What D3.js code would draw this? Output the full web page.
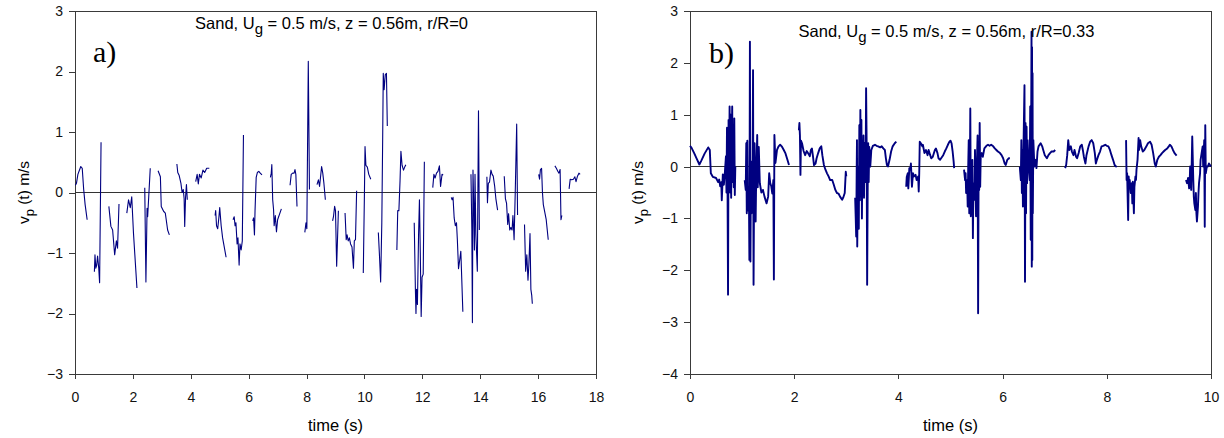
<!DOCTYPE html>
<html>
<head>
<meta charset="utf-8">
<script src="https://cdn.jsdelivr.net/npm/d3@7"></script>
<style>
  body { margin: 0; background: #fff; }
  svg { display: block; }
  text { fill: #000; }
</style>
</head>
<body>
<svg id="chart" width="1224" height="438"></svg>
<script>
// ---- axis ticks ----
const xTicksA = [0, 2, 4, 6, 8, 10, 12, 14, 16, 18];
const yTicksA = [-3, -2, -1, 0, 1, 2, 3];
const xTicksB = [0, 2, 4, 6, 8, 10];
const yTicksB = [-4, -3, -2, -1, 0, 1, 2, 3];

// ---- captions ----
const conditionsA = ["Sand, U", "g", " = 0.5 m/s, z = 0.56m, r/R=0"];
const conditionsB = ["Sand, U", "g", " = 0.5 m/s, z = 0.56m, r/R=0.33"];
const panelTags = ["a)", "b)"];
const xTitle = "time (s)";
const yTitle = ["v", "p", " (t) m/s"];

// ---- particle velocity records [time s, velocity m/s], one array per uninterrupted stretch ----
const tracesA = [
  [[0.01,0.12],[0.05,0.15],[0.1,0.3],[0.2,0.43],[0.25,0.4],[0.3,0.05],[0.35,-0.2],[0.42,-0.45]],
  [[0.67,-1.31],[0.69,-1.03],[0.72,-1.25],[0.75,-1.2],[0.78,-1.05],[0.82,-1.25],[0.85,-1.49],[0.9,0.83]],
  [[1.17,-0.23],[1.24,-0.56],[1.3,-0.62],[1.37,-1.03],[1.43,-0.8],[1.47,-0.92],[1.52,-0.19]],
  [[1.79,-0.34],[1.85,-0.12],[1.91,-0.25],[1.96,-0.07],[2.02,-0.67],[2.14,-1.58]],
  [[2.41,0.08],[2.45,-1.48],[2.49,-0.26],[2.51,-0.4],[2.6,0.4]],
  [[2.87,0.36],[2.95,0.26],[2.98,-0.23],[3.06,-0.31],[3.12,-0.34],[3.16,-0.48],[3.2,-0.62],[3.26,-0.7]],
  [[3.52,0.47],[3.55,0.33],[3.6,0.28],[3.66,0.15],[3.7,0.0],[3.74,0.05],[3.77,-0.1],[3.79,-0.56],[3.82,-0.08],[3.85,0.13],[3.88,-0.12]],
  [[4.17,0.18],[4.22,0.3],[4.26,0.14],[4.3,0.3],[4.36,0.24],[4.42,0.37],[4.48,0.33],[4.55,0.4],[4.64,0.4]],
  [[4.84,-0.38],[4.86,-0.3],[4.89,-0.55],[4.93,-0.6],[4.97,-0.42],[5.0,-0.25],[5.05,-0.55],[5.1,-0.75],[5.22,-1.07]],
  [[5.46,-0.45],[5.5,-0.4],[5.53,-0.55],[5.56,-0.5],[5.6,-0.85],[5.63,-0.75],[5.67,-1.2],[5.7,-0.85],[5.74,-0.95],[5.78,-0.8],[5.82,0.95]],
  [[6.14,-0.47],[6.17,-0.42],[6.2,-0.7],[6.22,-0.3],[6.26,0.25],[6.3,0.33],[6.35,0.35],[6.4,0.32],[6.46,0.29]],
  [[6.75,0.25],[6.78,0.32],[6.8,0.46],[6.83,-0.12],[6.86,-0.28],[6.88,-0.55],[6.92,-0.38],[6.96,-0.65],[7.0,-0.45],[7.13,-0.27]],
  [[7.43,0.12],[7.47,0.3],[7.52,0.32],[7.57,0.32],[7.6,0.38],[7.63,0.3],[7.67,-0.23]],
  [[7.94,-0.66],[7.98,-0.5],[8.01,-0.6],[8.06,2.17],[8.1,0.05]],
  [[8.36,0.13],[8.41,0.21],[8.45,0.1],[8.52,0.43],[8.56,0.32],[8.6,0.15],[8.65,-0.12]],
  [[8.9,-0.47],[8.93,-0.4],[8.97,-0.23],[9.0,-0.3],[9.04,-1.22],[9.1,-0.3]],
  [[9.33,-0.34],[9.37,-0.78],[9.4,-0.7],[9.44,-0.8],[9.48,-0.75],[9.52,-0.85],[9.57,-0.9],[9.62,-1.25],[9.65,-0.8],[9.69,-0.78],[9.73,0.03]],
  [[9.96,-1.33],[10.0,0.0],[10.02,0.76],[10.05,0.45],[10.1,0.42],[10.15,0.3],[10.22,0.22]],
  [[10.48,-0.66],[10.52,-1.05],[10.56,-1.48],[10.6,-0.5],[10.63,0.9],[10.65,1.97],[10.68,1.7],[10.72,1.95],[10.76,1.97],[10.79,1.1]],
  [[11.12,-0.95],[11.15,-0.3],[11.19,-0.3],[11.23,0.2],[11.26,0.68],[11.3,0.45],[11.35,0.37],[11.39,0.42],[11.43,0.46]],
  [[11.72,-0.5],[11.76,-1.6],[11.78,-2.0],[11.8,-1.6],[11.83,-1.85],[11.87,-0.7],[11.9,-0.12],[11.93,-1.0],[11.96,-2.05],[11.99,-1.4],[12.03,-1.35],[12.07,0.51]],
  [[12.36,0.08],[12.4,0.3],[12.44,0.24],[12.49,0.32],[12.54,0.35],[12.59,0.44],[12.63,0.1],[12.68,0.3],[12.72,0.29]],
  [[13.0,-0.08],[13.03,-0.12],[13.06,-0.08],[13.1,-0.42],[13.14,-0.55],[13.18,-0.5],[13.21,-0.78],[13.25,-1.26],[13.29,-1.12],[13.33,-0.97],[13.4,-1.97]],
  [[13.68,0.3],[13.71,-0.6],[13.73,-2.15],[13.75,0.37],[13.78,-0.3],[13.8,-0.95],[13.82,0.3],[13.85,-0.7],[13.87,-0.95],[13.9,-1.3],[13.92,0.05],[13.94,1.35],[13.97,-0.62]],
  [[14.23,0.26],[14.25,-0.17],[14.28,0.15],[14.32,0.17],[14.37,0.37],[14.41,0.3],[14.45,0.27],[14.5,0.1],[14.54,-0.1],[14.6,-0.29]],
  [[14.83,0.27],[14.87,-0.1],[14.91,-0.18],[14.95,-0.53],[14.98,-0.35],[15.02,-0.62],[15.06,-0.58],[15.1,-0.62],[15.13,-0.38],[15.17,-0.78],[15.21,0.0],[15.26,1.13],[15.29,-0.37]],
  [[15.53,-0.53],[15.57,-1.3],[15.61,-1.03],[15.65,-1.45],[15.68,-1.2],[15.72,-0.68],[15.75,-1.6],[15.78,-1.7],[15.8,-1.84]],
  [[16.02,0.3],[16.05,0.22],[16.08,0.38],[16.12,0.4],[16.15,0.0],[16.18,-0.2],[16.22,-0.3],[16.28,-0.45],[16.35,-0.78]],
  [[16.58,0.44],[16.63,0.4],[16.68,0.35],[16.72,0.32],[16.76,0.38],[16.79,-0.45],[16.82,-0.38]],
  [[17.07,0.06],[17.11,0.22],[17.16,0.21],[17.22,0.22],[17.27,0.26],[17.31,0.18],[17.36,0.27],[17.41,0.32],[17.45,0.3]]
];

const tracesB = [
  [[0,0.4],[0.03,0.36],[0.08,0.26],[0.13,0.15],[0.18,0.04],[0.22,0.12],[0.28,0.25],[0.35,0.37],[0.38,0.32],[0.4,-0.13],[0.44,-0.2],[0.5,-0.22],[0.54,-0.3],[0.56,-0.25],[0.58,-0.38],[0.6,-0.3],[0.61,-0.65],[0.63,-0.15],[0.65,-0.35],[0.67,-0.1],[0.69,0.2],[0.7,-0.5],[0.71,0.75],[0.72,-0.3],[0.73,-2.47],[0.74,0.9],[0.75,-0.2],[0.76,1.16],[0.77,-0.5],[0.78,1.0],[0.79,-0.6],[0.8,0.5],[0.81,1.16],[0.82,-0.3],[0.83,0.6],[0.84,-0.4],[0.85,0.93],[0.86,-0.55],[0.87,0.0]],
  [[1.05,-0.26],[1.07,-0.45],[1.08,0.45],[1.09,-0.9],[1.1,0.5],[1.11,-0.85],[1.13,-0.4],[1.14,-1.8],[1.15,2.41],[1.16,-1.83],[1.17,0.1],[1.18,-0.9],[1.19,0.0],[1.2,-0.5],[1.21,1.86],[1.22,-2.28],[1.23,-0.45],[1.24,0.45],[1.26,-1.06],[1.27,-0.25],[1.29,0.61],[1.3,-0.4],[1.32,0.38],[1.34,-0.32],[1.37,-0.5],[1.4,-0.45],[1.43,-0.58],[1.47,-0.71],[1.5,-0.58],[1.52,-0.13],[1.54,-0.32],[1.56,-0.38],[1.58,-0.52],[1.6,-0.26],[1.61,-2.18],[1.62,0.61],[1.64,0.07],[1.67,0.32],[1.7,0.39],[1.73,0.42],[1.76,0.39],[1.8,0.32],[1.83,0.26],[1.87,0.13],[1.9,0.03]],
  [[2.09,0.7],[2.1,0.84],[2.11,0.6],[2.12,-0.16],[2.13,0.5],[2.15,0.45],[2.18,0.3],[2.21,0.22],[2.24,0.3],[2.27,0.25],[2.3,0.2],[2.32,0.32],[2.34,0.35],[2.36,0.2],[2.38,0.03],[2.41,0.06],[2.43,0.16],[2.46,0.26],[2.49,0.35],[2.52,0.39],[2.54,0.22],[2.57,0.03],[2.6,-0.06],[2.63,-0.13],[2.66,-0.19],[2.69,-0.26],[2.73,-0.26],[2.76,-0.35],[2.79,-0.45],[2.82,-0.51],[2.85,-0.52],[2.88,-0.58],[2.92,-0.64],[2.94,-0.6],[2.97,-0.51],[2.99,-0.1],[3.0,-0.19]],
  [[3.17,-0.6],[3.18,-0.96],[3.19,-1.35],[3.2,0.0],[3.205,0.51],[3.21,-1.54],[3.22,-0.45],[3.23,0.0],[3.24,-1.2],[3.25,0.8],[3.26,-0.65],[3.27,1.09],[3.28,-0.58],[3.29,0.9],[3.3,-1.0],[3.31,0.4],[3.32,-0.25],[3.33,0.6],[3.34,-0.6],[3.35,0.45],[3.37,-0.3],[3.38,1.51],[3.39,0.5],[3.4,-2.28],[3.41,-0.5],[3.42,0.45],[3.43,-0.3],[3.44,0.38],[3.46,0.0],[3.48,0.32],[3.51,0.4],[3.55,0.42],[3.58,0.4],[3.61,0.39],[3.65,0.37],[3.68,0.39],[3.71,0.35],[3.74,0.32],[3.76,0.16],[3.78,0.03],[3.8,0.0],[3.83,0.13],[3.86,0.29],[3.89,0.39],[3.93,0.45],[3.96,0.48]],
  [[4.15,-0.39],[4.16,-0.2],[4.18,-0.13],[4.19,-0.42],[4.21,-0.03],[4.23,-0.06],[4.24,0.06],[4.26,-0.39],[4.28,-0.13],[4.3,-0.19],[4.33,-0.16],[4.35,-0.26],[4.38,-0.19],[4.39,-0.48],[4.4,-0.13],[4.41,0.48],[4.43,0.45],[4.46,0.39],[4.47,0.42],[4.5,0.26],[4.53,0.32],[4.56,0.22],[4.58,0.32],[4.61,0.22],[4.63,0.16],[4.66,0.19],[4.7,0.32],[4.72,0.35],[4.75,0.26],[4.77,0.16],[4.8,0.13],[4.82,0.16],[4.86,0.22],[4.89,0.29],[4.92,0.35],[4.95,0.42],[4.98,0.48],[5.0,0.5],[5.02,0.45],[5.04,0.3],[5.06,0.1],[5.07,-0.03]],
  [[5.26,-0.06],[5.28,-0.26],[5.29,-0.13],[5.3,-0.51],[5.32,-0.26],[5.33,-0.77],[5.34,0.0],[5.35,0.51],[5.36,-0.9],[5.37,-0.39],[5.38,1.12],[5.39,-0.96],[5.4,-0.13],[5.41,-0.45],[5.42,0.13],[5.43,-1.38],[5.44,-0.32],[5.46,-0.64],[5.47,0.32],[5.49,-0.96],[5.5,-0.2],[5.52,0.6],[5.53,-2.83],[5.54,0.0],[5.55,-0.45],[5.56,0.84],[5.57,-0.39],[5.58,0.19],[5.6,0.26],[5.62,0.19],[5.65,0.35],[5.69,0.4],[5.72,0.42],[5.75,0.4],[5.78,0.42],[5.82,0.39],[5.85,0.35],[5.88,0.32],[5.91,0.29],[5.95,0.26],[5.98,0.22],[6.01,0.16],[6.04,0.06],[6.06,0.03],[6.09,0.13],[6.12,0.16],[6.14,0.16]],
  [[6.33,0.0],[6.35,-0.26],[6.36,0.51],[6.37,-0.51],[6.38,0.32],[6.39,-0.77],[6.4,0.3],[6.42,1.57],[6.43,-2.22],[6.44,0.84],[6.45,-0.9],[6.46,0.77],[6.47,-0.32],[6.48,0.51],[6.5,0.0],[6.52,-0.26],[6.53,1.16],[6.54,-1.41],[6.555,2.6],[6.56,-1.93],[6.565,2.3],[6.57,-1.8],[6.575,1.8],[6.58,-0.9],[6.59,0.51],[6.61,0.0],[6.63,0.13],[6.65,-0.03],[6.67,0.29],[6.69,0.39],[6.71,0.42],[6.73,0.45],[6.76,0.39],[6.78,0.32],[6.81,0.22],[6.85,0.16],[6.88,0.22],[6.91,0.26],[6.94,0.29],[6.98,0.29],[7.01,0.32]],
  [[7.2,-0.03],[7.22,0.03],[7.24,0.22],[7.26,0.51],[7.28,0.32],[7.31,0.39],[7.33,0.29],[7.36,0.22],[7.38,0.32],[7.41,0.19],[7.43,0.16],[7.46,0.26],[7.49,0.39],[7.52,0.42],[7.54,0.32],[7.56,0.19],[7.59,0.06],[7.61,0.22],[7.65,0.39],[7.68,0.48],[7.71,0.51],[7.74,0.45],[7.77,0.26],[7.79,0.06],[7.81,0.13],[7.84,0.22],[7.87,0.29],[7.9,0.39],[7.93,0.4],[7.97,0.42],[8.0,0.4],[8.03,0.39],[8.06,0.32],[8.09,0.22],[8.12,0.13],[8.15,0.03],[8.19,-0.01]],
  [[8.37,0.51],[8.38,-0.26],[8.39,-0.13],[8.4,-0.58],[8.41,-1.03],[8.42,-0.19],[8.43,-0.39],[8.44,-0.26],[8.46,-0.51],[8.48,-0.32],[8.49,-0.71],[8.5,-0.29],[8.52,-0.9],[8.53,-0.39],[8.55,-0.19],[8.56,-0.26],[8.57,-0.06],[8.59,0.13],[8.61,0.55],[8.62,0.32],[8.64,0.51],[8.66,0.39],[8.69,0.29],[8.72,0.32],[8.76,0.39],[8.79,0.45],[8.83,0.48],[8.86,0.42],[8.89,0.26],[8.92,0.06],[8.94,0.0],[8.97,0.13],[9.0,0.19],[9.03,0.22],[9.06,0.26],[9.09,0.29],[9.12,0.32],[9.16,0.35],[9.19,0.39],[9.21,0.42],[9.24,0.39],[9.27,0.32],[9.3,0.26],[9.34,0.21]],
  [[9.52,-0.26],[9.54,-0.32],[9.56,-0.22],[9.58,-0.42],[9.59,-0.32],[9.6,0.0],[9.62,-0.45],[9.64,0.58],[9.66,-0.26],[9.67,-0.58],[9.68,-0.71],[9.7,-0.84],[9.71,-0.51],[9.72,-0.9],[9.73,-1.06],[9.75,-0.77],[9.76,-0.51],[9.77,-0.32],[9.79,-0.13],[9.8,0.13],[9.82,0.26],[9.84,0.39],[9.85,0.0],[9.87,0.51],[9.88,-1.16],[9.89,0.8],[9.9,-0.13],[9.92,0.0],[9.94,0.0],[9.96,0.06],[9.98,0.03],[10.0,0.0]]
];

// ---- layout ----
const svg = d3.select("#chart");
const sans = "Arial, 'Liberation Sans', sans-serif";
const serif = "'Times New Roman', 'Liberation Serif', serif";
const axisColor = "#3a3a3a";
const traceColor = "#000080";

const panels = [
  { left: 75, right: 596, top: 11, bottom: 374, xDomain: [0, 18], yDomain: [-3, 3],
    xTicks: xTicksA, yTicks: yTicksA, traces: tracesA, caption: conditionsA, captionY: 29,
    tag: panelTags[0], tagX: 93, tagY: 62, yTitleX: 29, lineWidth: 1.1 },
  { left: 690, right: 1211, top: 11, bottom: 374, xDomain: [0, 10], yDomain: [-4, 3],
    xTicks: xTicksB, yTicks: yTicksB, traces: tracesB, caption: conditionsB, captionY: 37,
    tag: panelTags[1], tagX: 709, tagY: 63, yTitleX: 643, lineWidth: 1.9 }
];

panels.forEach(p => {
  const x = d3.scaleLinear().domain(p.xDomain).range([p.left, p.right]);
  const y = d3.scaleLinear().domain(p.yDomain).range([p.bottom, p.top]);
  const g = svg.append("g");

  // frame
  g.append("rect")
    .attr("x", p.left).attr("y", p.top)
    .attr("width", p.right - p.left).attr("height", p.bottom - p.top)
    .attr("fill", "none").attr("stroke", axisColor).attr("stroke-width", 1)
    .attr("shape-rendering", "crispEdges");

  // axes
  const xAxis = g.append("g")
    .attr("transform", `translate(0,${p.bottom})`)
    .call(d3.axisBottom(x).tickValues(p.xTicks).tickSize(5).tickPadding(13).tickSizeOuter(0).tickFormat(d3.format("d")));
  const yAxis = g.append("g")
    .attr("transform", `translate(${p.left},0)`)
    .call(d3.axisLeft(y).tickValues(p.yTicks).tickSize(6).tickPadding(6).tickSizeOuter(0).tickFormat(d3.format("d")));
  [xAxis, yAxis].forEach(a => {
    a.select(".domain").attr("stroke", axisColor).attr("shape-rendering", "crispEdges");
    a.selectAll(".tick line").attr("stroke", axisColor).attr("shape-rendering", "crispEdges");
    a.selectAll(".tick text").style("font-size", "14px").style("font-family", sans).style("fill", "#111");
  });

  // zero reference line
  g.append("line")
    .attr("x1", p.left).attr("x2", p.right)
    .attr("y1", y(0)).attr("y2", y(0))
    .attr("stroke", "#333").attr("stroke-width", 1).attr("shape-rendering", "crispEdges");

  // velocity traces
  const line = d3.line().x(d => x(d[0])).y(d => y(d[1]));
  g.append("g").selectAll("path")
    .data(p.traces)
    .join("path")
    .attr("d", line)
    .attr("fill", "none")
    .attr("stroke", traceColor)
    .attr("stroke-width", p.lineWidth)
    .attr("stroke-linejoin", "round");

  // run conditions caption
  const midX = (p.left + p.right) / 2;
  const cap = g.append("text").attr("x", midX - 4).attr("y", p.captionY)
    .attr("text-anchor", "middle").style("font-family", sans).style("font-size", "16.5px");
  cap.append("tspan").text(p.caption[0]);
  cap.append("tspan").attr("dy", 5).style("font-size", "15px").text(p.caption[1]);
  cap.append("tspan").attr("dy", -5).text(p.caption[2]);

  // panel tag
  g.append("text").attr("x", p.tagX).attr("y", p.tagY)
    .style("font-family", serif).style("font-size", "30px").text(p.tag);

  // axis titles
  g.append("text").attr("x", midX).attr("y", 431)
    .attr("text-anchor", "middle").style("font-family", sans).style("font-size", "16.5px").text(xTitle);

  const yt = g.append("text")
    .attr("transform", `translate(${p.yTitleX},${(p.top + p.bottom) / 2}) rotate(-90)`)
    .attr("text-anchor", "middle").style("font-family", sans).style("font-size", "15.5px");
  yt.append("tspan").text(yTitle[0]);
  yt.append("tspan").attr("dy", 5).style("font-size", "13px").text(yTitle[1]);
  yt.append("tspan").attr("dy", -5).text(yTitle[2]);
});
</script>
</body>
</html>
